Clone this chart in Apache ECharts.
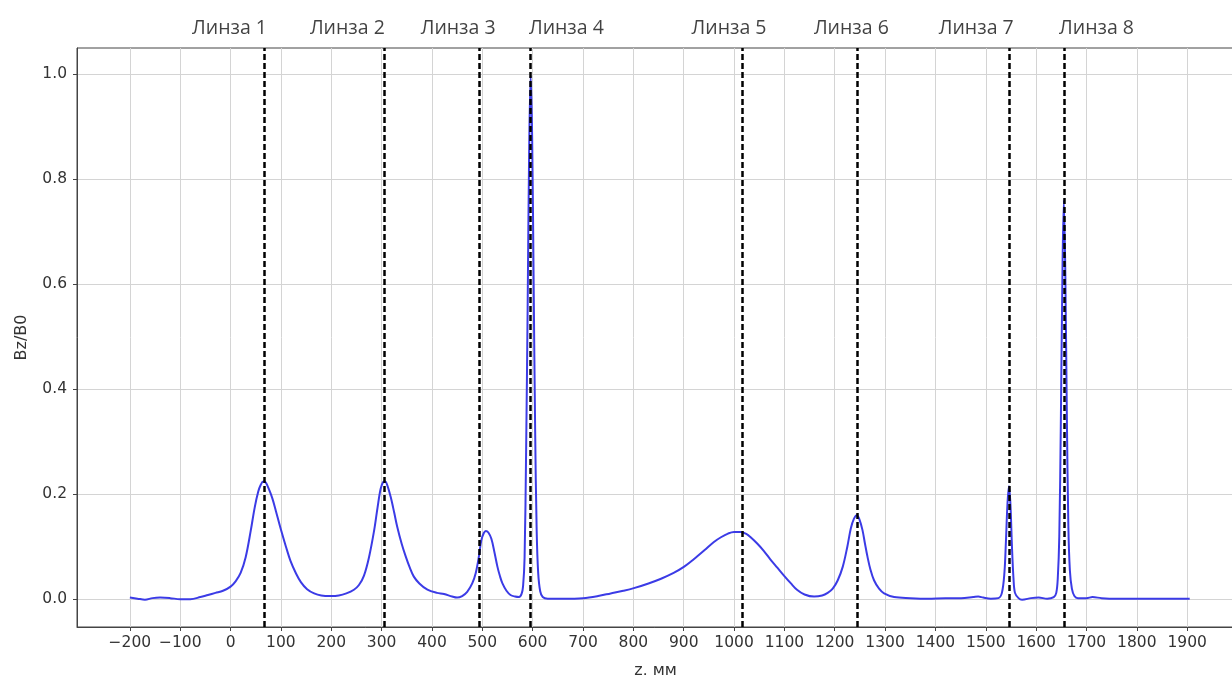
<!DOCTYPE html>
<html>
<head>
<meta charset="utf-8">
<script src="https://cdn.jsdelivr.net/npm/echarts@6/dist/echarts.min.js"></script>
<style>
html,body{margin:0;padding:0;background:#fff;}
#chart{width:1232px;height:675px;}
</style>
</head>
<body>
<div id="chart"></div>
<script>
// ---- data ----
const zValues = [
  -200,-185,-170,-155,-140,-120,-100,-80,-60,-45,-30,-15,0,10,20,30,40,48,55,60,65,70,76,83,90,99,110,119,130,140,152,166,180,199,
  215,230,245,255,265,275,285,292,298,303,307,312,318,325,331,340,348,356,364,375,391,410,424,440,450,
  460,470,480,487,493,498,503,507,512,518,524,530,535,540,548,556,565,573,
  578,581,584,587,590,593,596,599,602,605,608,611,615,620,630,660,
  700,730,755,780,801,830,855,880,901,920,941,960,974,988,1000,1013,1025,1033,1046,1059,1072,1086,1100,1113,1125,1140,1159,
  1175,1186,1196,1206,1216,1225,1232,1238,1244,1249,1255,1260,1265,1271,1278,1288,1298,1318,1350,1385,1420,1451,1475,1485,1495,1510,1525,
  1532,1537,1540,1543,1546,1549,1552,1555,1558,1565,1572,1590,1605,1622,1635,
  1640,1643,1646,1649,1652,1655,1658,1661,1664,1667,1671,1676,1683,1700,1712,1730,1760,1800,1850,1905
];
const bzValues = [
  0.003,0.001,-0.001,0.002,0.003,0.002,0.000,0.000,0.004,0.008,0.012,0.016,0.024,0.034,0.050,0.080,0.130,0.175,0.205,0.218,0.224,0.222,0.210,0.192,0.168,0.136,0.100,0.073,0.049,0.032,0.019,0.011,0.007,0.006,
  0.007,0.011,0.018,0.027,0.045,0.080,0.130,0.175,0.210,0.223,0.224,0.215,0.195,0.165,0.138,0.105,0.081,0.060,0.043,0.030,0.018,0.012,0.010,0.005,0.003,
  0.006,0.014,0.030,0.050,0.080,0.112,0.126,0.130,0.127,0.115,0.090,0.062,0.044,0.030,0.016,0.008,0.005,0.004,
  0.010,0.025,0.080,0.280,0.550,0.850,0.998,0.880,0.600,0.320,0.130,0.050,0.015,0.004,0.001,0.001,
  0.002,0.006,0.011,0.016,0.021,0.030,0.039,0.050,0.062,0.076,0.093,0.109,0.118,0.125,0.128,0.128,0.124,0.118,0.106,0.092,0.076,0.060,0.044,0.030,0.018,0.009,0.005,
  0.007,0.012,0.020,0.036,0.062,0.100,0.135,0.153,0.160,0.152,0.132,0.106,0.081,0.056,0.036,0.020,0.011,0.004,0.002,0.001,0.002,0.002,0.004,0.005,0.003,0.001,0.002,
  0.012,0.050,0.110,0.180,0.215,0.180,0.100,0.040,0.012,0.002,-0.001,0.002,0.003,0.001,0.004,
  0.012,0.040,0.120,0.330,0.600,0.760,0.620,0.350,0.140,0.055,0.020,0.006,0.002,0.002,0.004,0.002,0.001,0.001,0.001,0.001
];
const lensNames = ['Линза 1','Линза 2','Линза 3','Линза 4','Линза 5','Линза 6','Линза 7','Линза 8'];
const lensZ = [66, 306, 493, 596, 1017, 1244, 1546, 1655];
const lensLabelZ = [-2, 232, 452, 667, 990, 1233, 1481, 1720];
const xTicks = [-200,-100,0,100,200,300,400,500,600,700,800,900,1000,1100,1200,1300,1400,1500,1600,1700,1800,1900];
const yTicks = [0.0,0.2,0.4,0.6,0.8,1.0];
const xRange = [-305, 1993];
const yRange = [-0.053, 1.05];
const labelY = 1.088;

// ---- chart ----
const chart = echarts.init(document.getElementById('chart'), null, {renderer:'canvas'});
const tickFont = {fontFamily:'DejaVu Sans', fontSize:15.5, color:'#333'};
const curve = zValues.map((z,i)=>[z,bzValues[i]]);

chart.setOption({
  animation:false,
  backgroundColor:'#fff',
  grid:{left:77, top:48, width:1157, height:579, containLabel:false, outerBoundsMode:'none',
    show:true, borderColor:'#444', borderWidth:1, backgroundColor:'transparent'},
  xAxis:{
    type:'value', min:xRange[0], max:xRange[1],
    name:'z, мм', nameLocation:'middle', nameGap:36,
    nameTextStyle:{fontFamily:'DejaVu Sans', fontSize:16, color:'#333'},
    axisLine:{show:true, onZero:false, lineStyle:{color:'#444', width:1}},
    axisTick:{show:true, customValues:xTicks, length:4, lineStyle:{color:'#444'}},
    axisLabel:{customValues:xTicks, margin:8, ...tickFont,
      formatter:v=> v<0 ? '\u2212'+Math.abs(v) : String(v)},
    splitLine:{show:true, lineStyle:{color:'#d4d4d4', width:1}}
  },
  yAxis:{
    type:'value', min:yRange[0], max:yRange[1],
    name:'Bz/B0', nameLocation:'middle', nameGap:47, nameRotate:90,
    nameTextStyle:{fontFamily:'DejaVu Sans', fontSize:16, color:'#333'},
    axisLine:{show:true, onZero:false, lineStyle:{color:'#444', width:1}},
    axisTick:{show:true, customValues:yTicks, length:4, lineStyle:{color:'#444'}},
    axisLabel:{customValues:yTicks, margin:10, ...tickFont, formatter:v=>v.toFixed(1)},
    splitLine:{show:true, lineStyle:{color:'#d4d4d4', width:1}}
  },
  series:[
    {
      type:'line', data:curve, showSymbol:false, smooth:0.35,
      lineStyle:{color:'#3b3be6', width:2}, z:3,
      markLine:{
        silent:true, symbol:'none', animation:false,
        label:{show:false},
        lineStyle:{color:'#000', width:2.5, type:[6,3]},
        data:lensZ.map(z=>({xAxis:z}))
      }
    },
    {
      type:'scatter', clip:false, symbolSize:0, silent:true,
      data:lensLabelZ.map((z,i)=>({value:[z,labelY], name:lensNames[i]})),
      label:{show:true, position:'inside', formatter:p=>p.name,
        fontFamily:'Open Sans', fontSize:19.5, color:'#111'}
    }
  ]
});
</script>
</body>
</html>
